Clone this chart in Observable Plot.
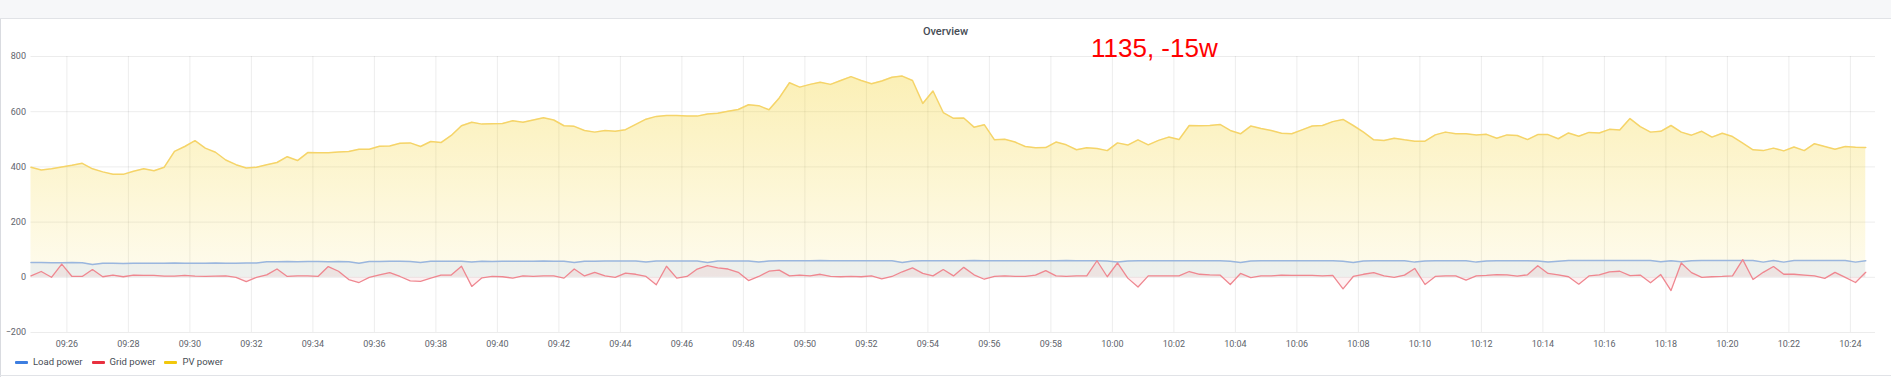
<!DOCTYPE html>
<html><head><meta charset="utf-8">
<script src="https://cdn.jsdelivr.net/npm/d3@7"></script>
<script src="https://cdn.jsdelivr.net/npm/@observablehq/plot@0.6"></script>
<style>
html,body{margin:0;padding:0;background:#fff;}
#panel{position:relative;width:1891px;height:377px;overflow:hidden;font-family:Roboto,"Noto Sans",sans-serif;background:#fff;}
#band{position:absolute;left:0;top:0;width:1891px;height:18px;background:#f6f7f9;border-bottom:1px solid #e1e3e7;}
#lborder{position:absolute;left:0;top:19px;width:1px;height:358px;background:#d9dbe0;}
#bborder{position:absolute;left:0;top:375px;width:1891px;height:1px;background:#e1e3e7;}
#title{position:absolute;left:0;width:1891px;top:25.5px;line-height:11px;text-align:center;font-size:11px;font-weight:500;color:#464c54;}
#note{position:absolute;left:1091px;top:35px;line-height:26px;font-family:"Liberation Sans",Arial,sans-serif;font-size:26px;color:#ff0000;white-space:nowrap;}
#chart{position:absolute;left:0;top:19px;}
#legend{position:absolute;left:15px;top:356px;display:flex;align-items:center;font-size:9.5px;line-height:12px;color:#464c54;}
.item{display:flex;align-items:center;margin-right:9px;}
.sw{width:13px;height:3px;margin-right:5px;border-radius:1px;}
</style>
</head><body>
<div id="panel">
  <div id="chart"></div>
  <div id="band"></div>
  <div id="lborder"></div>
  <div id="bborder"></div>
  <div id="title">Overview</div>
  <div id="note">1135, -15w</div>
  <div id="legend"></div>
</div>
<script>
// sampling: every 20 s starting 09:24:50
const startTime = "09:24:50";
const stepSeconds = 20;

const seriesNames = ["Load power", "Grid power", "PV power"];
const legendColors = ["#3d7ee0", "#e8303f", "#f2c80c"];
const yTicks = [-200, 0, 200, 400, 600, 800];

const pvPower = [
399,389,393,400,406,413,393,382,373,373,384,393,386,399,456,474,495,468,453,425,
408,396,399,408,416,437,423,452,451,451,454,456,464,464,475,476,486,487,474,492,
488,514,549,562,555,556,557,567,562,570,578,570,549,547,532,526,532,529,535,554,
573,583,586,586,584,584,592,594,602,608,625,622,607,650,705,689,699,707,699,713,
727,713,701,711,725,729,713,630,675,597,576,577,544,553,498,500,490,474,469,470,
490,480,462,469,467,459,487,479,498,480,496,508,499,550,549,550,554,532,520,548,
539,532,522,520,534,548,550,564,572,550,526,498,496,504,498,493,493,516,526,520,
520,516,518,504,516,514,499,517,517,502,523,511,525,523,536,534,575,546,526,529,
550,526,515,529,508,522,510,486,462,459,468,458,472,459,484,474,464,474,471,470
];

const gridPower = [
5,21,0,48,3,3,28,2,8,2,8,7,7,4,4,7,4,3,4,5,
0,-16,0,9,30,3,5,5,3,39,22,-8,-19,0,9,17,3,-13,-15,-3,
8,8,40,-33,-2,3,2,-3,5,3,5,5,-3,30,5,18,5,0,15,11,
3,-27,40,-3,3,30,42,34,30,18,-12,3,22,26,5,8,5,11,3,2,
3,2,5,-6,3,20,34,14,5,28,5,36,9,-7,3,5,3,3,8,24,
5,3,5,5,60,2,52,-3,-35,5,5,5,5,21,11,9,8,-26,14,-1,
5,5,8,7,7,7,5,7,-42,3,11,17,5,0,8,32,-26,3,5,5,
-10,5,7,10,9,4,9,42,14,9,2,-25,5,9,20,22,6,8,-20,10,
-48,52,17,0,2,3,5,64,-8,18,39,11,11,8,5,-4,18,0,-19,18
];

const loadPower = [
54,54,53,53,54,53,46,51,51,50,51,51,51,51,52,51,51,51,52,51,
51,52,52,56,56,57,56,57,57,56,57,56,51,57,57,58,58,57,54,58,
58,58,58,55,58,57,58,58,58,58,59,58,58,54,58,58,59,59,59,59,
55,59,59,59,59,59,54,59,59,59,59,55,59,60,60,60,60,61,60,60,
60,60,60,60,60,54,59,60,60,60,60,60,61,60,60,60,60,60,60,60,
60,61,60,60,60,59,55,59,60,60,60,60,60,60,60,60,60,58,54,59,
60,60,60,60,60,60,60,60,58,54,59,60,60,60,60,55,59,60,60,60,
60,55,59,60,60,60,60,59,55,58,61,61,61,61,61,61,61,61,61,56,
60,56,60,61,61,61,61,61,61,55,61,55,61,61,61,61,61,61,55,60
];

const [h0, m0, s0] = startTime.split(":").map(Number);
const t0 = Date.UTC(2024, 0, 1, h0, m0, s0);
const data = pvPower.map((pv, i) => ({
  t: new Date(t0 + i * stepSeconds * 1000),
  pv, grid: gridPower[i], load: loadPower[i]
}));

const xDomain = [new Date(t0), new Date(Date.UTC(2024, 0, 1, 10, 24, 49))];
const xTicks = d3.utcMinute.every(2).range(new Date(Date.UTC(2024,0,1,9,25)), xDomain[1]);

const gradDefs = () => {
  const defs = d3.create("svg:defs");
  const g = defs.append("linearGradient").attr("id", "pvgrad")
    .attr("x1", 0).attr("y1", 0).attr("x2", 0).attr("y2", 1);
  g.append("stop").attr("offset", "0%").attr("stop-color", "#F2CC0C").attr("stop-opacity", 0.3);
  g.append("stop").attr("offset", "100%").attr("stop-color", "#F2CC0C").attr("stop-opacity", 0.07);
  return defs.node();
};

const chart = Plot.plot({
  width: 1891,
  height: 358,
  marginTop: 37,
  marginBottom: 45,
  marginLeft: 30.5,
  marginRight: 16,
  style: {fontFamily: "Roboto, 'Noto Sans', sans-serif", fontSize: "9px", color: "#60646c", background: "transparent", overflow: "visible"},
  x: {type: "utc", domain: xDomain, ticks: xTicks, tickFormat: d3.utcFormat("%H:%M"), tickSize: 0, tickPadding: 8, label: null},
  y: {domain: [-200, 800], ticks: yTicks, tickSize: 0, tickPadding: 5, label: null},
  marks: [
    gradDefs,
    Plot.gridX(xTicks, {stroke: "#000", strokeOpacity: 0.075}),
    Plot.gridY(yTicks, {stroke: "#000", strokeOpacity: 0.075}),
    Plot.areaY(data, {x: "t", y1: d => 0, y2: "pv", fill: "url(#pvgrad)"}),
    Plot.areaY(data, {x: "t", y1: d => 0, y2: "load", fill: "#5794F2", fillOpacity: 0.1}),
    Plot.areaY(data, {x: "t", y1: d => 0, y2: "grid", fill: "#F2495C", fillOpacity: 0.08}),
    Plot.lineY(data, {x: "t", y: "pv", stroke: "#f5d469", strokeWidth: 1.5}),
    Plot.lineY(data, {x: "t", y: "load", stroke: "#9ab6de", strokeWidth: 1.5}),
    Plot.lineY(data, {x: "t", y: "grid", stroke: "#ef8790", strokeWidth: 1.3})
  ]
});
document.getElementById("chart").appendChild(chart);

const legend = document.getElementById("legend");
seriesNames.forEach((name, i) => {
  const it = document.createElement("div");
  it.className = "item";
  const sw = document.createElement("div");
  sw.className = "sw";
  sw.style.background = legendColors[i];
  const tx = document.createElement("span");
  tx.textContent = name;
  it.appendChild(sw); it.appendChild(tx);
  legend.appendChild(it);
});
</script>
</body></html>
